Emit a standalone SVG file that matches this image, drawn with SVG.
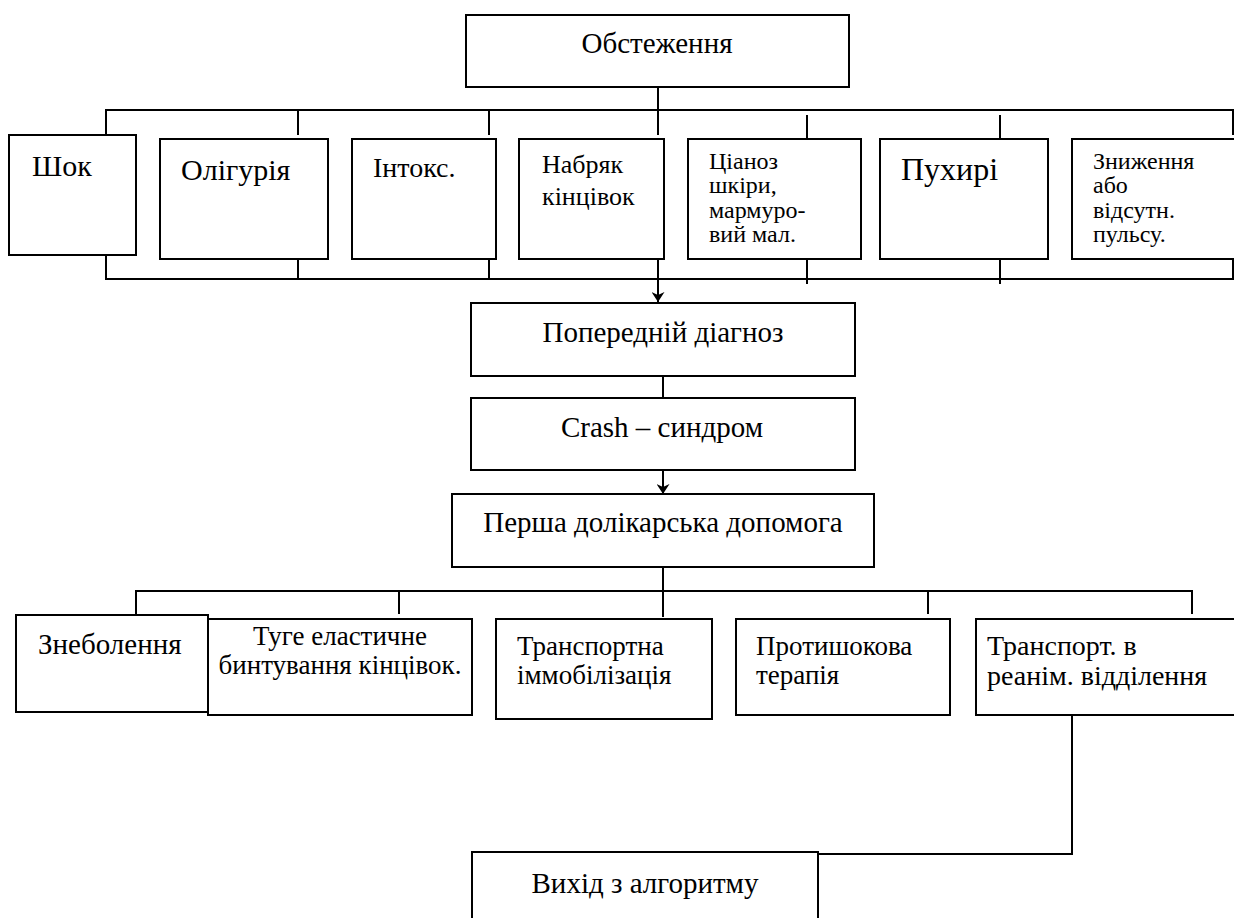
<svg xmlns="http://www.w3.org/2000/svg" width="1234" height="918" viewBox="0 0 1234 918">
<defs>
<marker id="arr" markerWidth="10" markerHeight="13" refX="10" refY="6.5" orient="auto" markerUnits="userSpaceOnUse">
<path d="M0,0 L10,6.5 L0,13 L3,6.5 z" fill="#000"/>
</marker>
</defs>
<style>
.box{fill:#fff;stroke:#000;stroke-width:2}
.ln{fill:none;stroke:#000;stroke-width:2}
text{font-family:"Liberation Serif","Times New Roman",serif;fill:#000}
.c{text-anchor:middle}
.f32{font-size:32px}
.f30{font-size:30px}
.f29{font-size:29px}
.f28{font-size:28px}
.f27{font-size:27px}
.f26{font-size:26px}
.f24{font-size:24px}
</style>
<rect width="1234" height="918" fill="#fff"/>
<g id="connectors">
<line class="ln" x1="658" y1="87" x2="658" y2="135"/>
<polyline class="ln" points="106,135 106,110 1233,110 1233,135"/>
<line class="ln" x1="298" y1="110" x2="298" y2="135"/>
<line class="ln" x1="489" y1="110" x2="489" y2="135"/>
<line class="ln" x1="807" y1="115" x2="807" y2="138"/>
<line class="ln" x1="1000" y1="115" x2="1000" y2="138"/>
<polyline class="ln" points="106,255 106,279 1233,279 1233,259"/>
<line class="ln" x1="298" y1="259" x2="298" y2="279"/>
<line class="ln" x1="489" y1="259" x2="489" y2="279"/>
<line class="ln" x1="807" y1="259" x2="807" y2="284"/>
<line class="ln" x1="1000" y1="259" x2="1000" y2="284"/>
<line class="ln" x1="658" y1="259" x2="658" y2="302" marker-end="url(#arr)"/>
<line class="ln" x1="663" y1="376" x2="663" y2="398"/>
<line class="ln" x1="663" y1="470" x2="663" y2="494" marker-end="url(#arr)"/>
<line class="ln" x1="663" y1="567" x2="663" y2="617"/>
<polyline class="ln" points="136,614 136,591 1192,591 1192,614"/>
<line class="ln" x1="399" y1="591" x2="399" y2="614"/>
<line class="ln" x1="928" y1="591" x2="928" y2="614"/>
<polyline class="ln" points="1072,715 1072,854 818,854"/>
</g>
<g id="obstezhennya">
<rect class="box" x="466" y="15" width="383" height="72"/>
<text class="c f29" x="657" y="53">Обстеження</text>
</g>
<g id="shok">
<rect class="box" x="9" y="135" width="127" height="120"/>
<text class="f30" x="32" y="176">Шок</text>
</g>
<g id="oliguriya">
<rect class="box" x="160" y="139" width="168" height="120"/>
<text class="f30" x="181" y="180">Олігурія</text>
</g>
<g id="intoks">
<rect class="box" x="352" y="139" width="144" height="120"/>
<text class="f28" x="373" y="177">Інтокс.</text>
</g>
<g id="nabryak">
<rect class="box" x="519" y="139" width="145" height="120"/>
<text class="f26" x="542" y="173">Набряк</text>
<text class="f26" x="542" y="205">кінцівок</text>
</g>
<g id="tsianoz">
<rect class="box" x="688" y="139" width="173" height="120"/>
<text class="f24" x="709" y="169">Ціаноз</text>
<text class="f24" x="709" y="193">шкіри,</text>
<text class="f24" x="709" y="218">мармуро-</text>
<text class="f24" x="709" y="242">вий мал.</text>
</g>
<g id="pukhyri">
<rect class="box" x="880" y="139" width="168" height="120"/>
<text class="f32" x="901" y="180">Пухирі</text>
</g>
<g id="znyzhennya">
<rect class="box" x="1072" y="139" width="175" height="120"/>
<text class="f24" x="1093" y="169">Зниження</text>
<text class="f24" x="1093" y="193">або</text>
<text class="f24" x="1093" y="218">відсутн.</text>
<text class="f24" x="1093" y="242">пульсу.</text>
</g>
<g id="poperedniy">
<rect class="box" x="471" y="303" width="384" height="73"/>
<text class="c f29" x="663" y="342">Попередній діагноз</text>
</g>
<g id="crash">
<rect class="box" x="471" y="398" width="384" height="72"/>
<text class="c f29" x="662" y="437">Crash – синдром</text>
</g>
<g id="persha">
<rect class="box" x="452" y="494" width="422" height="73"/>
<text class="c f29" x="663" y="532">Перша долікарська допомога</text>
</g>
<g id="zneboleniya">
<rect class="box" x="16" y="615" width="192" height="97"/>
<text class="f29" x="38" y="654">Знеболення</text>
</g>
<g id="tuge">
<rect class="box" x="208" y="619" width="264" height="96"/>
<text class="c f27" x="340" y="645">Туге еластичне</text>
<text class="c f27" x="340" y="674">бинтування кінцівок.</text>
</g>
<g id="transportna">
<rect class="box" x="496" y="619" width="216" height="100"/>
<text class="f27" x="517" y="655">Транспортна</text>
<text class="f27" x="517" y="684">іммобілізація</text>
</g>
<g id="protyshokova">
<rect class="box" x="736" y="619" width="214" height="96"/>
<text class="f27" x="756" y="655">Протишокова</text>
<text class="f27" x="756" y="684">терапія</text>
</g>
<g id="transport">
<rect class="box" x="976" y="619" width="270" height="96"/>
<text class="f28" x="987" y="655">Транспорт. в</text>
<text class="f28" x="987" y="685">реанім. відділення</text>
</g>
<g id="vykhid">
<rect class="box" x="472" y="852" width="346" height="80"/>
<text class="c f29" x="645" y="893">Вихід з алгоритму</text>
</g>
</svg>
